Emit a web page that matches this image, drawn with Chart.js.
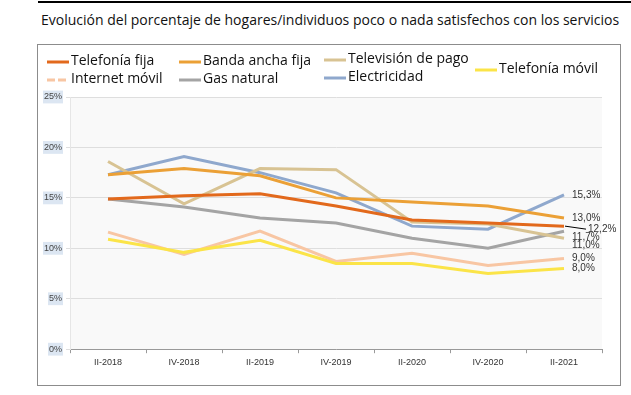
<!DOCTYPE html>
<html>
<head>
<meta charset="utf-8">
<script src="https://cdn.jsdelivr.net/npm/chart.js@4.4.0/dist/chart.umd.min.js"></script>
<style>
  body { margin: 0; background: #fff; }
  #wrap { position: relative; width: 631px; height: 395px; overflow: hidden; }
  #topline { position: absolute; left: 38px; top: 1px; width: 593px; height: 0; border-top: 2px solid #000; }
  #titulo { position: absolute; left: 41px; top: 10px; font-family: "Open Sans", sans-serif; font-size: 14px; color: #111; white-space: nowrap; }
  #caja { position: absolute; left: 37px; top: 44px; width: 582px; height: 340px; border: 1px solid #8c8c8c; }
  canvas { position: absolute; left: 0; top: 0; }
</style>
</head>
<body>
<div id="wrap">
  <div id="topline"></div>
  <div id="titulo">Evolución del porcentaje de hogares/individuos poco o nada satisfechos con los servicios</div>
  <div id="caja"></div>
  <canvas id="myChart" width="631" height="395"></canvas>
</div>
<script>
// datos
const periodos = ["II-2018", "IV-2018", "II-2019", "IV-2019", "II-2020", "IV-2020", "II-2021"];
const telefoniaFija = [14.9, 15.2, 15.4, 14.2, 12.8, 12.5, 12.2];
const bandaAnchaFija = [17.3, 17.9, 17.2, 15.0, 14.6, 14.2, 13.0];
const televisionPago = [18.6, 14.4, 17.9, 17.8, 12.6, 12.4, 11.0];
const telefoniaMovil = [10.9, 9.6, 10.8, 8.5, 8.5, 7.5, 8.0];
const internetMovil = [11.6, 9.4, 11.7, 8.7, 9.5, 8.3, 9.0];
const gasNatural = [14.9, 14.1, 13.0, 12.5, 11.0, 10.0, 11.7];
const electricidad = [17.3, 19.1, 17.5, 15.5, 12.2, 11.9, 15.3];
const yMin = 0, yMax = 25, yPaso = 5;

const data = {
  labels: periodos,
  datasets: [
    { label: "Telefonía fija", data: telefoniaFija, borderColor: "#e2691c" },
    { label: "Banda ancha fija", data: bandaAnchaFija, borderColor: "#eba036" },
    { label: "Televisión de pago", data: televisionPago, borderColor: "#d8c393" },
    { label: "Telefonía móvil", data: telefoniaMovil, borderColor: "#fbe448" },
    { label: "Internet móvil", data: internetMovil, borderColor: "#f8c6a3" },
    { label: "Gas natural", data: gasNatural, borderColor: "#a4a4a4" },
    { label: "Electricidad", data: electricidad, borderColor: "#8fa8cd" },
  ],
};
data.datasets.forEach((d) => {
  d.borderWidth = 3;
  d.pointRadius = 0;
  d.tension = 0;
  d.fill = false;
});

// fondo gris claro del área de trazado
const fondo = {
  id: "fondo",
  beforeDraw(chart) {
    const a = chart.chartArea;
    const ctx = chart.ctx;
    ctx.save();
    ctx.fillStyle = "#f9f9f9";
    ctx.fillRect(a.left, a.top, a.right - a.left, a.bottom - a.top);
    ctx.restore();
  },
};

// leyenda colocada a mano como en el original
const posLeyenda = [
  [47, 61], [179, 61], [324, 59], [475, 69],
  [47, 79], [179, 79], [324, 77],
];
const orden = [0, 1, 2, 3, 4, 5, 6];
const leyenda = {
  id: "leyenda",
  afterDraw(chart) {
    const ctx = chart.ctx;
    ctx.save();
    ctx.font = '14px "Open Sans"';
    ctx.textBaseline = "middle";
    orden.forEach((i, k) => {
      const ds = chart.data.datasets[i];
      const [x, y] = posLeyenda[k];
      ctx.strokeStyle = ds.borderColor;
      ctx.lineWidth = 3;
      if (i == 4) ctx.setLineDash([8, 3]);
      ctx.beginPath();
      ctx.moveTo(x, y + 1);
      ctx.lineTo(x + 22, y + 1);
      ctx.stroke();
      ctx.setLineDash([]);
      ctx.fillStyle = "#111";
      ctx.fillText(ds.label, x + 24, y);
    });
    ctx.restore();
  },
};

// etiquetas del último valor
const despY = [3, 0, 7, 0, 0, 6, 0];
const etiquetas = {
  id: "etiquetas",
  afterDatasetsDraw(chart) {
    const ctx = chart.ctx;
    ctx.save();
    ctx.font = "10px Arial";
    ctx.fillStyle = "#333";
    ctx.textBaseline = "middle";
    chart.data.datasets.forEach((ds, i) => {
      const pts = chart.getDatasetMeta(i).data;
      const p = pts[pts.length - 1];
      const v = ds.data[ds.data.length - 1];
      const txt = v.toFixed(1).replace(".", ",") + "%";
      let x = p.x + 8;
      const y = p.y + despY[i];
      if (i == 0) {
        ctx.strokeStyle = "#000";
        ctx.lineWidth = 1;
        ctx.beginPath();
        ctx.moveTo(p.x + 1, p.y);
        ctx.lineTo(p.x + 22, y);
        ctx.stroke();
        x = p.x + 24;
      }
      ctx.fillText(txt, x, y);
    });
    ctx.restore();
  },
};

const config = {
  type: "line",
  data: data,
  options: {
    responsive: false,
    animation: false,
    devicePixelRatio: 1,
    layout: { padding: { top: 97, left: 40, right: 29, bottom: 23 } },
    plugins: {
      legend: { display: false },
      tooltip: { enabled: false },
    },
    scales: {
      x: {
        offset: true,
        grid: { offset: true, drawOnChartArea: false, drawTicks: true, tickLength: 4, color: "#999" },
        border: { color: "#999" },
        ticks: { font: { family: "Arial", size: 9 }, color: "#333", padding: 4 },
      },
      y: {
        min: yMin,
        max: yMax,
        grid: { color: "#dedede", tickLength: 4 },
        border: { color: "#e6e6e6" },
        ticks: {
          stepSize: yPaso,
          font: { family: "Arial", size: 9 },
          color: "#444",
          padding: 4,
          showLabelBackdrop: true,
          backdropColor: "#dce6f2",
          backdropPadding: 1,
          callback: (v) => v + "%",
        },
      },
    },
  },
  plugins: [fondo, leyenda, etiquetas],
};

let context = document.getElementById("myChart").getContext("2d");
let chart = new Chart(context, config);
</script>
</body>
</html>
